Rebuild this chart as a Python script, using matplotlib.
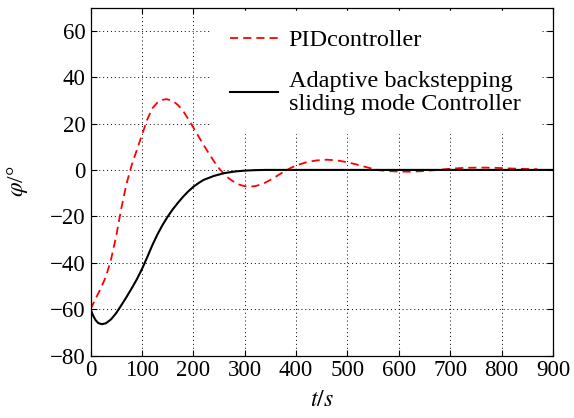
import matplotlib.pyplot as plt

plt.rcParams['font.family'] = ['Liberation Serif', 'DejaVu Serif']
plt.rcParams['mathtext.fontset'] = 'stix'

# PID controller response
t_pid = [0, 10, 20, 30, 40, 50, 60, 70, 80, 90, 100, 110, 120, 130, 140, 148,
         160, 170, 180, 190, 200, 210, 220, 230, 240, 250, 260, 270, 280, 290,
         300, 310, 320, 330, 340, 350, 360, 370, 380, 390, 400, 420, 440, 460,
         480, 500, 520, 540, 560, 580, 600, 620, 640, 660, 680, 700, 720, 740,
         760, 780, 800, 820, 840, 860, 870]
phi_pid = [-60, -55.5, -51, -46, -38.5, -28.5, -16.5, -6, 2, 8.5, 15, 21.5, 26.5, 29, 30.2, 30.5,
           29.8, 28, 25.5, 22, 18.3, 14.5, 10.8, 7.2, 3.8, 0.7, -1.8, -3.8, -5.3, -6.4,
           -7, -7.2, -7, -6.4, -5.5, -4.3, -3, -1.6, -0.3, 0.9, 1.9, 3.3, 4.1, 4.4,
           4.1, 3.3, 2.2, 1.0, -0.1, -0.5, -0.7, -0.75, -0.6, -0.3, 0.1, 0.5, 0.8, 0.95,
           1.0, 0.95, 0.8, 0.6, 0.45, 0.35, 0.3]

# Adaptive backstepping sliding mode controller response
t_abs = [0, 5, 10, 15, 22, 30, 40, 50, 60, 70, 80, 90, 100, 110, 120, 130, 140, 150,
         160, 170, 180, 190, 200, 210, 220, 240, 260, 280, 300, 320, 340,
         400, 500, 600, 700, 800, 900]
phi_abs = [-60, -62.8, -64.8, -66, -66.5, -66.1, -64.4, -61.7, -58.3, -54.8, -51.1, -47.2,
           -42.8, -37.8, -32.6, -27.9, -23.8, -20.2, -17, -14.2, -11.6, -9.3, -7.3, -5.7,
           -4.3, -2.6, -1.4, -0.7, -0.3, -0.1, 0, 0, 0, 0, 0, 0, 0]

xticks = [0, 100, 200, 300, 400, 500, 600, 700, 800, 900]
yticks = [-80, -60, -40, -20, 0, 20, 40, 60]

fig = plt.figure(figsize=(5.74, 4.18), dpi=100)
ax = fig.add_axes([0.1577, 0.1495, 0.8057, 0.8325])

ax.plot(t_pid, phi_pid, color='red', linestyle='--', linewidth=1.3,
        dashes=(4.5, 2.8), label='PIDcontroller')
ax.plot(t_abs, phi_abs, color='black', linewidth=1.5,
        label='Adaptive backstepping\nsliding mode Controller')

ax.set_xlim(0, 900)
ax.set_ylim(-80, 70)
ax.set_xticks(xticks)
ax.set_yticks(yticks)
ax.tick_params(direction='in', top=True, right=True, labelsize=16.5, length=4,
               width=0.8)
ax.grid(True, color='black', linestyle=(0, (1, 3)), linewidth=0.7)
for s in ax.spines.values():
    s.set_linewidth(0.9)

ax.set_xlabel('$t/s$', fontsize=17, labelpad=6)
ax.set_ylabel('$\\varphi$/°', fontsize=17, labelpad=14)

leg = ax.legend(loc='upper right', bbox_to_anchor=(0.969, 0.99), frameon=True,
                fancybox=False, edgecolor='white', facecolor='white',
                framealpha=1, fontsize=17.5, handlelength=1.95,
                borderaxespad=0, borderpad=0.75, labelspacing=0.8,
                handletextpad=0.45)
for txt in leg.get_texts():
    txt.set_linespacing(1.15)
# keep the white legend box above the grid but under the axes frame
leg.set_zorder(2.2)

fig.savefig('out.png', dpi=100)
